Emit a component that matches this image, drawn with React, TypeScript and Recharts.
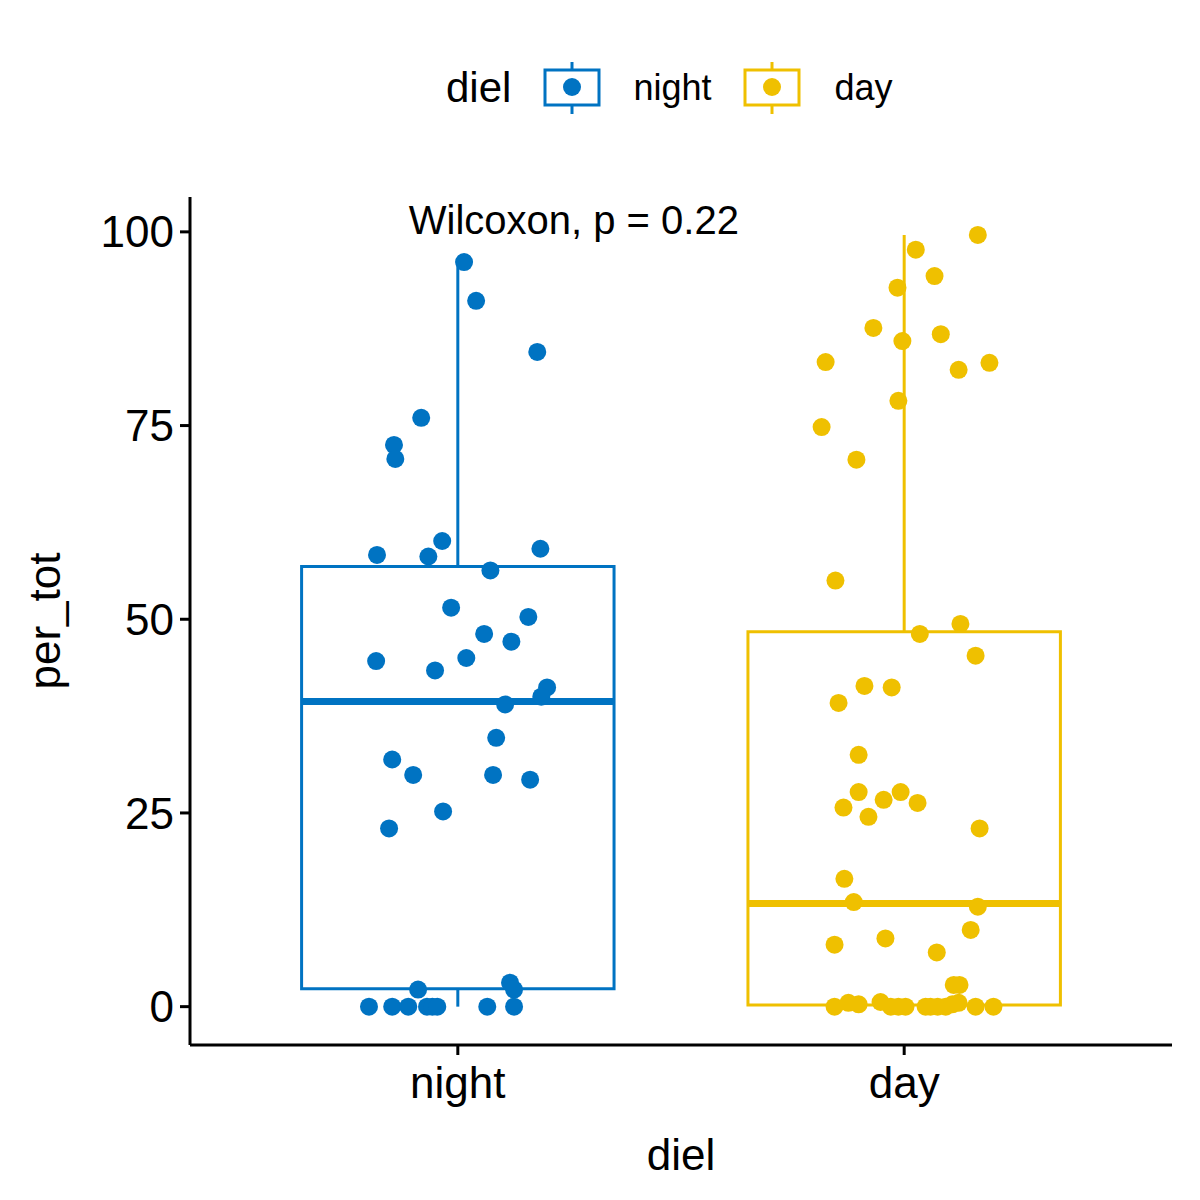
import { ScatterChart, Scatter, XAxis, YAxis, ReferenceArea, ReferenceLine, ReferenceDot } from 'recharts';

const groups = ['night', 'day'];
const colors = ['#0073C2', '#EFC000'];

// box stats: [q1, median, q3, lower whisker, upper whisker]
const nightStats = [2.3, 39.4, 56.8, 0, 96.1];
const dayStats = [0.2, 13.3, 48.4, 0, 99.6];

const nightX = [1.014, 1.041, 1.178, 0.918, 0.857, 0.86, 0.819, 0.934, 0.965, 1.185, 1.073, 0.985, 1.158, 1.059, 1.12, 0.817, 1.019, 0.949, 1.2, 1.187, 1.106, 1.086, 0.853, 0.9, 1.079, 1.162, 0.967, 0.846, 0.911, 1.117, 1.126, 0.801, 0.853, 0.889, 0.931, 0.943, 0.954, 1.066, 1.126];
const nightY = [96.1, 91.1, 84.5, 76.0, 72.5, 70.7, 58.3, 58.1, 60.1, 59.1, 56.3, 51.5, 50.3, 48.1, 47.1, 44.6, 45.0, 43.4, 41.2, 40.0, 39.0, 34.7, 31.9, 29.9, 29.9, 29.3, 25.2, 23.0, 2.2, 3.1, 2.2, 0, 0, 0, 0, 0, 0, 0, 0];

const dayX = [2.165, 2.026, 2.068, 1.985, 1.931, 1.996, 2.082, 1.824, 2.191, 2.122, 1.987, 1.815, 1.893, 1.846, 2.126, 2.035, 2.16, 1.911, 1.972, 1.853, 1.898, 1.898, 1.992, 1.954, 2.03, 1.864, 1.92, 2.169, 1.866, 1.887, 2.165, 2.149, 1.958, 1.844, 2.073, 2.111, 2.124, 1.844, 1.875, 1.898, 1.947, 1.97, 1.987, 2.003, 2.048, 2.059, 2.075, 2.093, 2.108, 2.122, 2.16, 2.2];
const dayY = [99.6, 97.7, 94.3, 92.8, 87.6, 85.9, 86.8, 83.2, 83.1, 82.2, 78.2, 74.8, 70.6, 55.0, 49.4, 48.1, 45.3, 41.4, 41.2, 39.2, 32.5, 27.7, 27.7, 26.7, 26.3, 25.7, 24.5, 23.0, 16.5, 13.5, 12.9, 9.9, 8.8, 8.0, 7.0, 2.8, 2.8, 0, 0.5, 0.3, 0.6, 0, 0, 0, 0, 0, 0, 0, 0.3, 0.5, 0, 0];

const yTicks = [0, 25, 50, 75, 100];

const nightData = nightX.map((x, i) => ({ x, y: nightY[i] }));
const dayData = dayX.map((x, i) => ({ x, y: dayY[i] }));
const allStats = [nightStats, dayStats];

const font = '"Liberation Sans", Arial, sans-serif';

function LegendKey({ color }: { color: string }) {
  return (
    <svg width={58} height={56} style={{ display: 'block' }}>
      <line x1={29} y1={2} x2={29} y2={54} stroke={color} strokeWidth={3} />
      <rect x={2} y={10} width={54} height={35} fill="white" stroke={color} strokeWidth={3} />
      <circle cx={29} cy={27} r={9} fill={color} />
    </svg>
  );
}

function TopLegend() {
  return (
    <div style={{ position: 'absolute', top: 60, left: 446, display: 'flex', alignItems: 'center', fontFamily: font }}>
      <span style={{ fontSize: 42, marginRight: 32 }}>diel</span>
      <LegendKey color={colors[0]} />
      <span style={{ fontSize: 36, marginLeft: 32, marginRight: 32 }}>night</span>
      <LegendKey color={colors[1]} />
      <span style={{ fontSize: 36, marginLeft: 33 }}>day</span>
    </div>
  );
}

export default function App() {
  return (
    <div style={{ position: 'absolute', left: 0, top: 0, width: 1200, height: 1200, background: 'white' }}>
      <TopLegend />
      <ScatterChart width={1200} height={1200} margin={{ top: 197, right: 28, bottom: 0, left: 0 }}>
        <XAxis
          type="number"
          dataKey="x"
          domain={[0.4, 2.6]}
          ticks={[1, 2]}
          tickFormatter={(v) => groups[v - 1]}
          allowDataOverflow
          height={155}
          stroke="#000"
          strokeWidth={3}
          tickSize={10}
          tickMargin={12}
          tick={{ fill: '#000', fontSize: 44, fontFamily: font }}
          label={{ value: 'diel', position: 'insideBottom', offset: 30, fill: '#000', fontSize: 44, fontFamily: font }}
        />
        <YAxis
          type="number"
          dataKey="y"
          domain={[-4.95, 104.5]}
          ticks={yTicks}
          allowDataOverflow
          width={190}
          stroke="#000"
          strokeWidth={3}
          tickSize={10}
          tickMargin={6}
          tick={{ fill: '#000', fontSize: 44, fontFamily: font }}
          label={{ value: 'per_tot', angle: -90, position: 'insideLeft', offset: 44, fill: '#000', fontSize: 44, fontFamily: font, style: { textAnchor: 'middle' } }}
        />
        {allStats.map((s, i) => {
          const c = i + 1;
          return [
            <ReferenceLine key={`wu${i}`} segment={[{ x: c, y: s[2] }, { x: c, y: s[4] }]} stroke={colors[i]} strokeWidth={3} />,
            <ReferenceLine key={`wl${i}`} segment={[{ x: c, y: s[3] }, { x: c, y: s[0] }]} stroke={colors[i]} strokeWidth={3} />,
            <ReferenceArea key={`b${i}`} x1={c - 0.35} x2={c + 0.35} y1={s[0]} y2={s[2]} fill="white" fillOpacity={0} stroke={colors[i]} strokeWidth={3} strokeOpacity={1} />,
            <ReferenceLine key={`m${i}`} segment={[{ x: c - 0.35, y: s[1] }, { x: c + 0.35, y: s[1] }]} stroke={colors[i]} strokeWidth={7} />,
          ];
        })}
        <Scatter data={nightData} fill={colors[0]} isAnimationActive={false} shape={(p: any) => <circle cx={p.cx} cy={p.cy} r={9} fill={colors[0]} />} />
        <Scatter data={dayData} fill={colors[1]} isAnimationActive={false} shape={(p: any) => <circle cx={p.cx} cy={p.cy} r={9} fill={colors[1]} />} />
        <ReferenceDot
          x={1.26}
          y={101.6}
          r={0}
          fill="none"
          stroke="none"
          label={{ value: 'Wilcoxon, p = 0.22', position: 'center', fill: '#000', fontSize: 40, fontFamily: font }}
        />
      </ScatterChart>
    </div>
  );
}
